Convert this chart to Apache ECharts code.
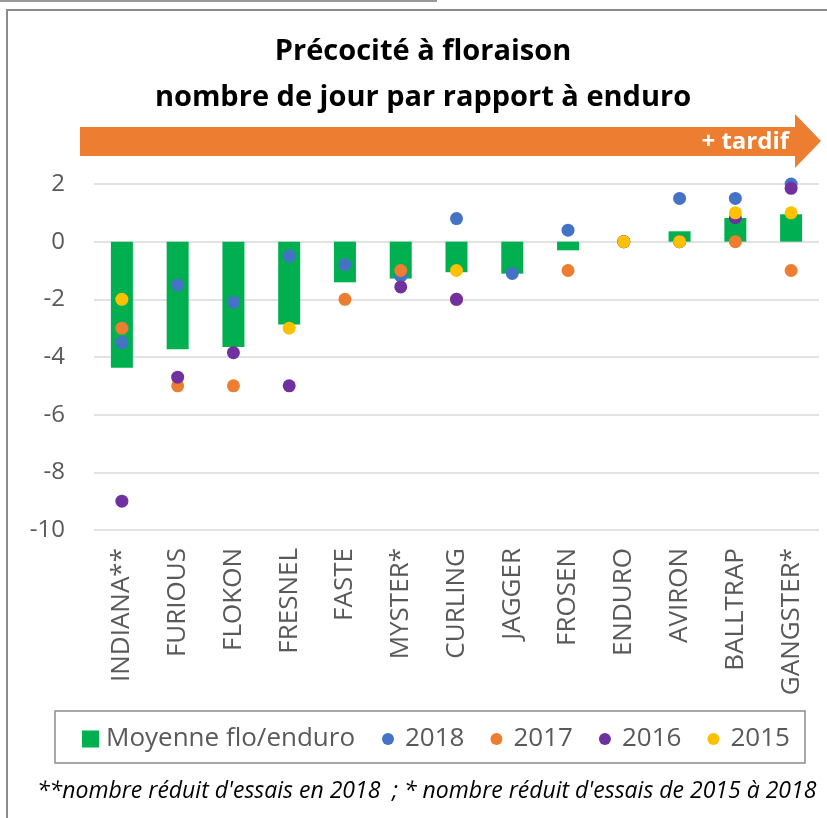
<!DOCTYPE html>
<html>
<head>
<meta charset="utf-8">
<title>Précocité à floraison</title>
<script src="https://cdn.jsdelivr.net/npm/echarts@6/dist/echarts.min.js"></script>
<style>
  html, body { margin: 0; padding: 0; background: #fff; }
  #chart { width: 827px; height: 818px; }
</style>
</head>
<body>
<div id="chart"></div>
<script>
// variétés (ordre de l'axe)
var categories = ['INDIANA**', 'FURIOUS', 'FLOKON', 'FRESNEL', 'FASTE', 'MYSTER*', 'CURLING',
                  'JAGGER', 'FROSEN', 'ENDURO', 'AVIRON', 'BALLTRAP', 'GANGSTER*'];
// moyenne flo/enduro (barres)
var moyenne = [-4.37, -3.73, -3.65, -2.87, -1.41, -1.28, -1.06, -1.11, -0.3, 0, 0.36, 0.82, 0.95];
// écarts par année (points), null = pas d'essai
var annee2018 = [-3.5, -1.5, -2.1, -0.5, -0.8, -1.2, 0.8, -1.1, 0.4, 0, 1.5, 1.5, 2];
var annee2017 = [-3, -5, -5, null, -2, -1, -2, null, -1, 0, 0, 0, -1];
var annee2016 = [-9, -4.7, -3.85, -5, null, -1.57, -2, null, null, 0, 0, 0.83, 1.85];
var annee2015 = [-2, null, null, -3, null, null, -1, null, null, 0, 0, 1, 1];
var yTicks = [-10, -8, -6, -4, -2, 0, 2];

var font = 'Open Sans';
var grey = '#595959';

function pointSerie(name, data, color) {
    return {
        name: name,
        type: 'scatter',
        data: data,
        symbol: 'circle',
        symbolSize: 13,
        itemStyle: {color: color, opacity: 1},
        emphasis: {disabled: true}
    };
}

var myChart = echarts.init(document.getElementById('chart'), null, {renderer: 'canvas'});
myChart.setOption({
    animation: false,
    textStyle: {fontFamily: font},
    title: [{
        text: "**nombre réduit d'essais en 2018  ; * nombre réduit d'essais de 2015 à 2018",
        left: 37,
        top: 780,
        padding: 0,
        textStyle: {fontFamily: font, fontStyle: 'italic', fontWeight: 'normal', fontSize: 23, color: '#000'}
    }],
    grid: {left: 94, right: 8, top: 184, bottom: 288, containLabel: false},
    xAxis: {
        type: 'category',
        data: categories,
        axisLine: {show: false},
        axisTick: {show: false},
        axisLabel: {rotate: 90, margin: 18, fontSize: 26, color: grey, fontFamily: font, interval: 0}
    },
    yAxis: {
        type: 'value',
        min: yTicks[0],
        max: yTicks[yTicks.length - 1],
        interval: 2,
        axisLine: {show: false},
        axisTick: {show: false},
        axisLabel: {margin: 29, fontSize: 24, color: grey, fontFamily: font},
        splitLine: {lineStyle: {color: '#d9d9d9', width: 1.5}}
    },
    legend: [{
        data: ['Moyenne flo/enduro'],
        left: 82, top: 726, padding: 0,
        itemWidth: 17, itemHeight: 17,
        icon: 'rect',
        textStyle: {fontSize: 26, color: grey, fontFamily: font, padding: [0, 0, 0, 2]}
    }, {
        data: ['2018', '2017', '2016', '2015'],
        left: 382, top: 726, padding: 0,
        itemWidth: 12, itemHeight: 12, itemGap: 26,
        icon: 'circle',
        textStyle: {fontSize: 26, color: grey, fontFamily: font, padding: [0, 0, 0, 6]}
    }],
    graphic: [
        // cadres gris
        {type: 'line', silent: true, shape: {x1: 0, y1: 1, x2: 437, y2: 1}, style: {stroke: '#999', lineWidth: 2}},
        {type: 'polyline', silent: true, shape: {points: [[7, 818], [7, 10], [827, 10]]}, style: {stroke: '#8c8c8c', lineWidth: 2, fill: null}},
        // titre
        {type: 'text', silent: true, x: 423, y: 52, style: {text: 'Précocité à floraison', align: 'center', verticalAlign: 'middle',
            font: 'bold 29px "Open Sans"', fill: '#000'}},
        {type: 'text', silent: true, x: 423, y: 98, style: {text: 'nombre de jour par rapport à enduro', align: 'center', verticalAlign: 'middle',
            font: 'bold 29px "Open Sans"', fill: '#000'}},
        // flèche orange
        {type: 'polygon', silent: true, shape: {points: [[80, 127], [795, 127], [795, 114], [821, 141], [795, 168], [795, 156], [80, 156]]},
            style: {fill: '#ED7D31'}},
        {type: 'text', silent: true, x: 789, y: 142, style: {text: '+ tardif', align: 'right', verticalAlign: 'middle',
            font: 'bold 24px "Open Sans"', fill: '#fff'}},
        // cadre de la légende
        {type: 'rect', silent: true, shape: {x: 55, y: 711, width: 750, height: 52}, style: {stroke: '#8c8c8c', lineWidth: 1.5, fill: null}}
    ],
    series: [{
        name: 'Moyenne flo/enduro',
        type: 'bar',
        data: moyenne,
        barWidth: 22,
        itemStyle: {color: '#00B050'},
        emphasis: {disabled: true}
    },
        pointSerie('2018', annee2018, '#4472C4'),
        pointSerie('2017', annee2017, '#ED7D31'),
        pointSerie('2016', annee2016, '#7030A0'),
        pointSerie('2015', annee2015, '#FFC000')
    ]
});
</script>
</body>
</html>
